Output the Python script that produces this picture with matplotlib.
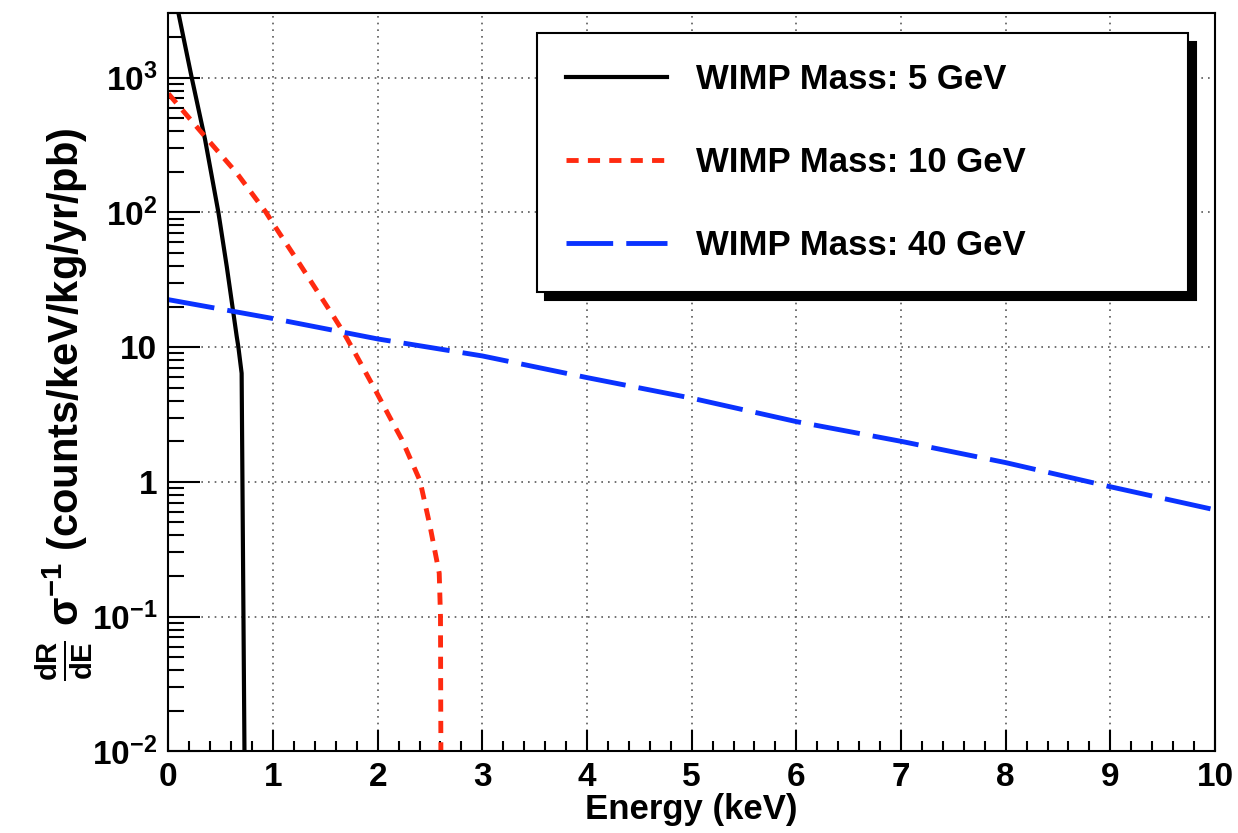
import numpy as np
import matplotlib.pyplot as plt
from matplotlib.ticker import FixedLocator, LogLocator, MultipleLocator, NullFormatter

plt.rcParams['font.family'] = ['Liberation Sans', 'DejaVu Sans']
plt.rcParams['font.weight'] = 'bold'
plt.rcParams['mathtext.fontset'] = 'custom'
plt.rcParams['mathtext.rm'] = 'Liberation Sans:bold'
plt.rcParams['mathtext.bf'] = 'Liberation Sans:bold'
plt.rcParams['mathtext.it'] = 'Liberation Sans:bold'

# values
energy_5 = [0.0, 0.096, 0.223, 0.35, 0.478, 0.558, 0.653, 0.669, 0.70, 0.73]
rate_5 = [6900, 3020, 1000, 349, 100, 39.6, 12, 10, 6.4, 0.005]

energy_10 = [0.0, 0.334, 0.653, 0.933, 1.003, 1.258, 1.576, 1.67, 1.765, 1.99,
             2.117, 2.23, 2.404, 2.50, 2.588, 2.60, 2.605]
rate_10 = [760, 378, 196, 100, 82, 41, 17.0, 13.0, 9.6, 4.6,
           3.0, 2.07, 1.02, 0.47, 0.21, 0.1, 0.005]

energy_40 = [0, 1, 2, 3, 4, 5, 6, 7, 8, 9, 10]
rate_40 = [22.5, 16.3, 11.5, 8.6, 5.94, 4.18, 2.8, 2.0, 1.39, 0.92, 0.62]

labels = ['WIMP Mass: 5 GeV', 'WIMP Mass: 10 GeV', 'WIMP Mass: 40 GeV']

xticks = list(range(11))
yticks = [1e-2, 1e-1, 1, 10, 1e2, 1e3]
ytick_labels = [r'$\mathbf{10^{-2}}$', r'$\mathbf{10^{-1}}$', '1', '10',
                r'$\mathbf{10^{2}}$', r'$\mathbf{10^{3}}$']

fig = plt.figure(figsize=(12.38, 8.33), dpi=100)
ax = fig.add_axes([0.136, 0.098, 0.8454, 0.886])

ax.plot(energy_5, rate_5, color='black', lw=3, label=labels[0])
ax.plot(energy_10, rate_10, color='#ff2a10', lw=3.5, dashes=(2.5, 1.9), label=labels[1])
ax.plot(energy_40, rate_40, color='#0a32ff', lw=3.5, dashes=(9.6, 2.7), label=labels[2])

ax.set_yscale('log')
ax.set_xlim(0, 10)
ax.set_ylim(1e-2, 3000)

ax.xaxis.set_major_locator(FixedLocator(xticks))
ax.xaxis.set_minor_locator(MultipleLocator(0.2))
ax.set_xticklabels([str(t) for t in xticks])
ax.yaxis.set_major_locator(FixedLocator(yticks))
ax.yaxis.set_minor_locator(LogLocator(base=10, subs=np.arange(2, 10)))
ax.yaxis.set_minor_formatter(NullFormatter())
ax.set_yticklabels(ytick_labels)

ax.tick_params(which='both', direction='in', top=False, right=False, width=1.5,
               labelsize=24, pad=8)
ax.tick_params(axis='y', which='major', length=23)
ax.tick_params(axis='y', which='minor', length=11.5)
ax.tick_params(axis='x', which='major', length=15)
ax.tick_params(axis='x', which='minor', length=7.5)

for s in ax.spines.values():
    s.set_linewidth(1.5)

ax.grid(True, which='major', linestyle=(0, (1, 3)), color='0.35', linewidth=1.2)
ax.set_axisbelow(True)

ax.set_xlabel('Energy (keV)', fontsize=25, fontweight='bold', labelpad=0)
fig.text(0.053, 0.515,
         r'$\frac{\mathbf{dR}}{\mathbf{dE}}$ σ$^{\mathbf{-1}}$ (counts/keV/kg/yr/pb)',
         rotation=90, ha='center', va='center', fontsize=30, fontweight='bold')

leg = ax.legend(loc='upper left', bbox_to_anchor=(0.352, 0.624, 0.622, 0.349),
                mode='expand', borderaxespad=0, fontsize=25, fancybox=False,
                framealpha=1, edgecolor='black', borderpad=0.85, labelspacing=1.45,
                handlelength=2.9, handletextpad=0.85,
                shadow={'color': 'black', 'alpha': 1, 'ox': 6, 'oy': -6})
leg.get_frame().set_linewidth(1.5)

plt.savefig('out.png', dpi=100)
